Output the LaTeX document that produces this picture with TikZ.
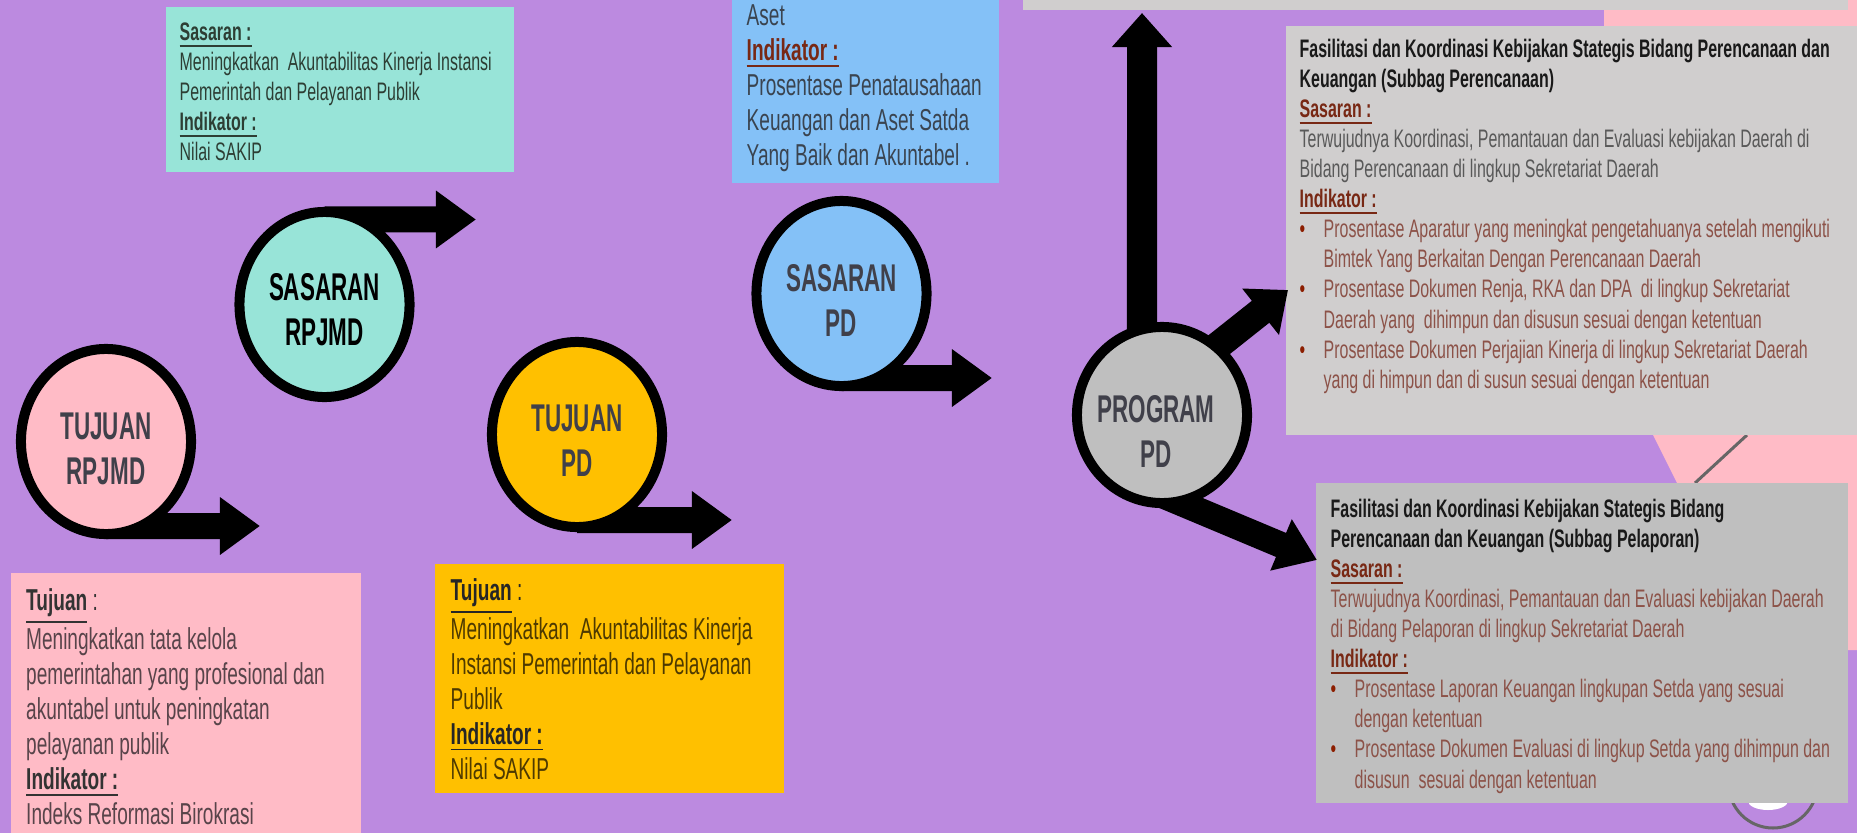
\documentclass[tikz,border=0pt]{standalone}
\usepackage{fontspec}
\setmainfont{Liberation Sans}
\newfontfamily\boxfont{Liberation Sans}[FakeStretch=0.63]
\newfontfamily\ringfont{Liberation Sans}[FakeStretch=0.58]
\usetikzlibrary{arrows.meta,shapes.geometric}

\pgfdeclarelayer{bg}
\pgfdeclarelayer{back}
\pgfsetlayers{bg,back,main}

\definecolor{bgpurple}{RGB}{188,138,224}
\definecolor{tealbox}{RGB}{152,228,216}
\definecolor{pinkbox}{RGB}{255,187,198}
\definecolor{goldbox}{RGB}{255,192,0}
\definecolor{skybox}{RGB}{132,193,247}
\definecolor{greyring}{RGB}{191,191,191}
\definecolor{greylight}{RGB}{208,206,206}
\definecolor{headred}{RGB}{120,40,20}
\definecolor{dotred}{RGB}{140,30,0}
\definecolor{bodybrown}{RGB}{140,82,72}
\definecolor{inkgrey}{RGB}{64,64,74}
\definecolor{tealink}{RGB}{45,62,52}
\definecolor{pinkink}{RGB}{88,68,74}
\definecolor{goldink}{RGB}{78,58,0}
\definecolor{skyink}{RGB}{58,68,80}

\newcommand\smalltext{\boxfont\fontsize{7.2}{8.54}\selectfont}
\newcommand\largetext{\boxfont\fontsize{8.6}{9.96}\selectfont}
\newcommand\head[1]{\underline{\textbf{#1}}}
\newcommand\itm{\makebox[0.24cm][l]{\textcolor{dotred}{\textbullet}}}
\newcommand\ind{\hspace*{0.24cm}}
\def\ringwd{1.7cm}
\def\ringht{1.85cm}

\begin{document}
\begin{tikzpicture}[x=0.01cm, y=-0.01cm]
  \tikzstyle{ring}=[ellipse, draw=black, line width=0.1cm, minimum width=\ringwd,
    minimum height=\ringht, inner sep=0pt, outer sep=0pt]
  \tikzstyle{ring label}=[font={\ringfont\bfseries\fontsize{11}{12.8}\selectfont},
    align=center, inner sep=0pt, text=inkgrey]
  \tikzstyle{panel}=[rectangle, anchor=north west, inner sep=0pt, outer sep=0pt]
  \tikzstyle{info}=[anchor=north west, align=left, inner sep=0pt]
  \tikzstyle{bigarrow}=[draw=black, line width=0.26cm, -{Triangle[length=0.4cm, width=0.55cm]}]

  \useasboundingbox (0,0) rectangle (1857,833);

  % Draw the backdrop and the text panels
  \begin{pgfonlayer}{bg}
    \fill[bgpurple] (0,0) rectangle (1857,833);
    \fill[pinkbox] (1604,0) -- (1857,0) -- (1857,650) -- (1800,650) -- (1677,483)
      -- (1653,435) -- (1604,26) -- cycle;
    \draw[black!60, line width=0.03cm] (1747,435) -- (1695,483);
    \draw[black!60, line width=0.03cm] (1773,783.5) circle [radius=44.5];
    \fill[white] (1768,801) ellipse [x radius=20, y radius=9];

    \node[panel, fill=greylight, minimum width=8.25cm, minimum height=0.1cm] (bar) at (1023,0) {};
    \node[panel, fill=tealbox, minimum width=3.48cm, minimum height=1.65cm] (sasrp-box) at (166,7) {};
    \node[panel, fill=skybox, minimum width=2.67cm, minimum height=1.83cm] (saspd-box) at (732,0) {};
    \node[panel, fill=pinkbox, minimum width=3.5cm, minimum height=2.6cm] (tujrp-box) at (11,573) {};
    \node[panel, fill=goldbox, minimum width=3.49cm, minimum height=2.29cm] (tujpd-box) at (435,564) {};
    \node[panel, fill=greylight, minimum width=5.71cm, minimum height=4.09cm] (plan-box) at (1286,26) {};
    \node[panel, fill=greyring, minimum width=5.32cm, minimum height=3.2cm] (report-box) at (1316,483) {};
  \end{pgfonlayer}

  % Texts of the panels
  \node[info, text=tealink, font=\smalltext] (sasrp-txt) at (179,19)
    {\strut\head{Sasaran :}\\
     Meningkatkan\ \ Akuntabilitas Kinerja Instansi\\
     Pemerintah dan Pelayanan Publik\\
     \head{Indikator :}\\
     Nilai SAKIP};

  \node[info, text=skyink, font=\largetext] (saspd-txt) at (746,0.5)
    {\strut Aset\\
     \textcolor{headred}{\head{Indikator :}}\\
     Prosentase Penatausahaan\\
     Keuangan dan Aset Satda\\
     Yang Baik dan Akuntabel .};

  \node[info, text=pinkink, font=\largetext] (tujrp-txt) at (25.5,585.5)
    {\strut\textcolor{black!80}{\underline{\textbf{Tujuan}} :}\\
     Meningkatkan tata kelola\\
     pemerintahan yang profesional dan\\
     akuntabel untuk peningkatan\\
     pelayanan publik\\
     \textcolor{black!80}{\head{Indikator :}}\\
     Indeks Reformasi Birokrasi};

  \node[info, text=goldink, font=\largetext] (tujpd-txt) at (450,575.5)
    {\strut\textcolor{black!85}{\underline{\textbf{Tujuan}} :}\\
     Meningkatkan\ \ Akuntabilitas Kinerja\\
     Instansi Pemerintah dan Pelayanan\\
     Publik\\
     \textcolor{black!85}{\head{Indikator :}}\\
     Nilai SAKIP};

  \node[info, text=bodybrown, font=\smalltext] (plan-txt) at (1299,36)
    {\strut\textcolor{black!90}{\textbf{Fasilitasi dan Koordinasi Kebijakan Stategis Bidang Perencanaan dan}}\\
     \textcolor{black!90}{\textbf{Keuangan (Subbag Perencanaan)}}\\
     \textcolor{headred}{\head{Sasaran :}}\\
     \textcolor{black!65}{Terwujudnya Koordinasi, Pemantauan dan Evaluasi kebijakan Daerah di}\\
     \textcolor{black!65}{Bidang Perencanaan di lingkup Sekretariat Daerah}\\
     \textcolor{headred}{\head{Indikator :}}\\
     \itm Prosentase Aparatur yang meningkat pengetahuanya setelah mengikuti\\
     \ind Bimtek Yang Berkaitan Dengan Perencanaan Daerah\\
     \itm Prosentase Dokumen Renja, RKA dan DPA\ \ di lingkup Sekretariat\\
     \ind Daerah yang\ \ dihimpun dan disusun sesuai dengan ketentuan\\
     \itm Prosentase Dokumen Perjajian Kinerja di lingkup Sekretariat Daerah\\
     \ind yang di himpun dan di susun sesuai dengan ketentuan};

  \node[info, text=bodybrown, font=\smalltext] (report-txt) at (1330,496)
    {\strut\textcolor{black!90}{\textbf{Fasilitasi dan Koordinasi Kebijakan Stategis Bidang}}\\
     \textcolor{black!90}{\textbf{Perencanaan dan Keuangan (Subbag Pelaporan)}}\\
     \textcolor{headred}{\head{Sasaran :}}\\
     Terwujudnya Koordinasi, Pemantauan dan Evaluasi kebijakan Daerah\\
     di Bidang Pelaporan di lingkup Sekretariat Daerah\\
     \textcolor{headred}{\head{Indikator :}}\\
     \itm Prosentase Laporan Keuangan lingkupan Setda yang sesuai\\
     \ind dengan ketentuan\\
     \itm Prosentase Dokumen Evaluasi di lingkup Setda yang dihimpun dan\\
     \ind disusun\ \ sesuai dengan ketentuan};

  % Draw the rings
  \node[ring, fill=pinkbox] (tujrp) at (106,441.5) {};
  \node[ring, fill=tealbox] (sasrp) at (324.5,304.5) {};
  \node[ring, fill=goldbox] (tujpd) at (577,434.5) {};
  \node[ring, fill=skybox] (saspd) at (841.5,293.5) {};
  \node[ring, fill=greyring, minimum height=1.76cm] (prog) at (1162,415) {};

  \node[ring label] (tujrp-l) at ([yshift=-0.07cm]tujrp.center) {TUJUAN\\RPJMD};
  \node[ring label, text=black] (sasrp-l) at ([yshift=-0.05cm]sasrp.center) {SASARAN\\RPJMD};
  \node[ring label] (tujpd-l) at ([yshift=-0.06cm]tujpd.center) {TUJUAN\\PD};
  \node[ring label] (saspd-l) at ([yshift=-0.065cm]saspd.center) {SASARAN\\PD};
  \node[ring label] (prog-l) at ([xshift=-0.06cm, yshift=-0.165cm]prog.center) {PROGRAM\\PD};

  % Connect the rings
  \coordinate (tujrp-out) at (260,526);
  \coordinate (sasrp-out) at (476,219.5);
  \coordinate (tujpd-out) at (732,520);
  \coordinate (saspd-out) at (992,378);
  \coordinate (prog-up) at (1142,13);
  \coordinate (plan-in) at (1288,290);
  \coordinate (report-in) at (1317,560);

  \begin{pgfonlayer}{back}
    \draw[bigarrow] ([yshift=0.08cm]tujrp.south) -- (tujrp-out);
    \draw[bigarrow] ([yshift=-0.075cm]sasrp.north) -- (sasrp-out);
    \draw[bigarrow] ([yshift=0.07cm]tujpd.south) -- (tujpd-out);
    \draw[bigarrow] ([yshift=0.08cm]saspd.south) -- (saspd-out);
    \draw[bigarrow, line width=0.3cm, -{Triangle[length=0.34cm, width=0.58cm]}]
      ([xshift=-0.2cm]prog.center) -- (prog-up);
    \draw[bigarrow, line width=0.28cm, -{Triangle[length=0.35cm, width=0.57cm]}]
      ([yshift=0.25cm]prog.center) -- (plan-in);
    \draw[bigarrow, line width=0.26cm, -{Triangle[length=0.39cm, width=0.53cm]}]
      ([yshift=0.08cm]prog.south) -- (report-in);
  \end{pgfonlayer}
\end{tikzpicture}
\end{document}
